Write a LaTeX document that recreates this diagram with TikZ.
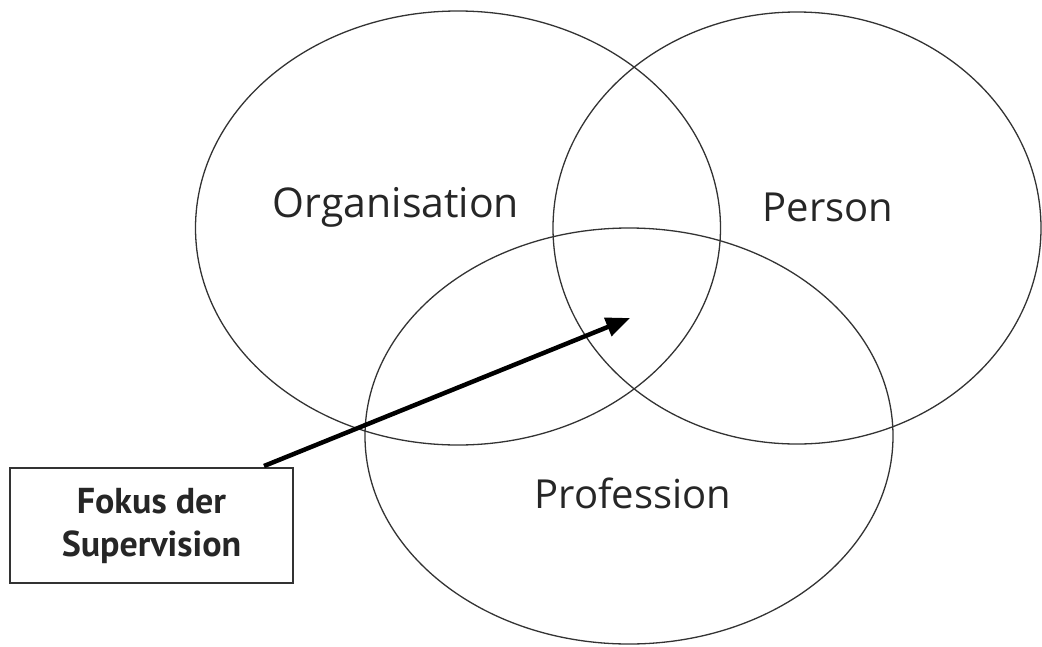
\documentclass[tikz,border=0pt]{standalone}
\usepackage{fontspec}
\setmainfont{Open Sans}
\newfontfamily\boxfont{PT Sans}
\usetikzlibrary{shapes.geometric,arrows.meta,calc}
\begin{document}
\begin{tikzpicture}[x=1pt,y=-1pt,
  circ/.style={draw=black!80,line width=1.3pt,ellipse,inner sep=0pt,outer sep=0pt},
  lbl/.style={font=\fontsize{40}{46}\selectfont,text=black!85,inner sep=0pt},
  focusbox/.style={draw=black!80,line width=2pt,minimum width=283pt,minimum height=115pt,
    align=center,font=\boxfont\bfseries\fontsize{36}{43}\selectfont,text=black!85,inner sep=0pt},
  focusarrow/.style={line width=4.5pt,-{Triangle[length=24pt,width=19pt]}}]
\useasboundingbox (0,0) rectangle (1042,646);
\node[circ,minimum width=525pt,minimum height=434pt] (org) at (458,228) {};
\node[circ,minimum width=488pt,minimum height=432pt] (pers) at (797,228) {};
\node[circ,minimum width=528pt,minimum height=416pt] (prof) at (629,436) {};
\node[lbl,font=\fontsize{41}{46}\selectfont] (torg) at (396,207) {Organisation};
\node[lbl] (tpers) at (828,207) {Person};
\node[lbl] (tprof) at (633,493) {Profession};
\node[focusbox] (box) at (151.5,525.5) {Fokus der\\Supervision};
\coordinate (focus) at (630,318);
\draw[focusarrow] ($(box.north east)+(-30,-1)$) -- (focus);
\end{tikzpicture}
\end{document}
